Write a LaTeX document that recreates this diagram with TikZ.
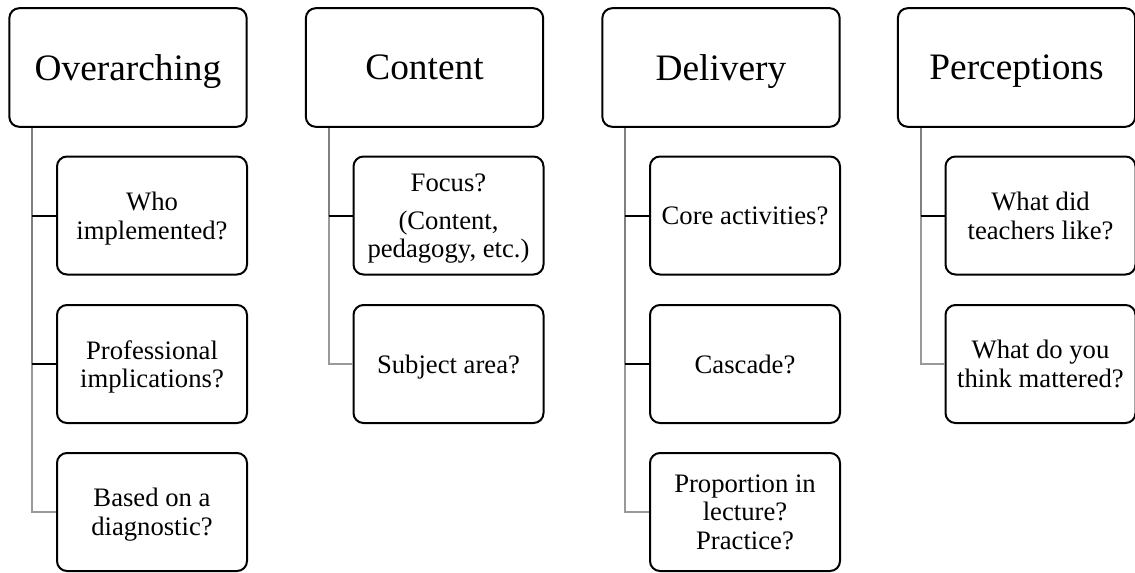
\documentclass[tikz,border=0pt]{standalone}
\usepackage{fontspec}
\setmainfont{Liberation Serif}
\usepackage{xcolor}
\usepackage{tikz}
\usetikzlibrary{positioning}

\begin{document}
\begin{tikzpicture}[x=0.75pt,y=-0.75pt,
			head/.style = {rectangle, draw, rounded corners=7.5pt, line width=1.5pt, minimum width=178pt, minimum height=89pt, inner sep=0pt, align=center, text depth=0pt, font=\fontsize{28}{32}\selectfont},
			item/.style = {rectangle, draw, rounded corners=7.5pt, line width=1.5pt, minimum width=142.5pt, minimum height=88.5pt, inner sep=0pt, align=center, text depth=0pt, font=\fontsize{20}{21.5}\selectfont},
			trunk/.style = {-,line width=1.5pt,draw=black!50},
			twig/.style = {-,line width=1.5pt,draw=black},
			last/.style = {-,line width=1.5pt,draw=black!40}]
	\useasboundingbox (0,0) rectangle (1135,572);

	% top row
	\node[head] (over) at (128, 67.5) {Overarching};
	\node[head] (cont) at (424.5, 67.5) {Content};
	\node[head] (deli) at (721, 67.5) {Delivery};
	\node[head] (perc) at (1016.5, 67.5) {Perceptions};

	% questions
	\node[item] (over1) at (152, 215.5) {Who\\implemented?};
	\node[item] (over2) at (152, 364) {Professional\\implications?};
	\node[item] (over3) at (152, 512) {Based on a\\diagnostic?};
	\node[item] (cont1) at (448.5, 215.5) {Focus?\\[7pt](Content,\\pedagogy, etc.)};
	\node[item] (cont2) at (448.5, 364) {Subject area?};
	\node[item] (deli1) at (745, 215.5) {Core activities?};
	\node[item] (deli2) at (745, 364) {Cascade?};
	\node[item] (deli3) at (745, 512) {Proportion in\\lecture?\\Practice?};
	\node[item] (perc1) at (1040.5, 215.5) {What did\\teachers like?};
	\node[item] (perc2) at (1040.5, 364) {What do you\\think mattered?};

	\coordinate (overt) at ([xshift=18pt]over.south west);
	\coordinate (contt) at ([xshift=18pt]cont.south west);
	\coordinate (delit) at ([xshift=18pt]deli.south west);
	\coordinate (perct) at ([xshift=18pt]perc.south west);

	% connectors
	\draw[last] (overt) |- (over3.west);
	\draw[trunk] (overt) -- (overt |- over2.west);
	\draw[twig] (overt |- over1.west) -- (over1.west);
	\draw[twig] (overt |- over2.west) -- (over2.west);

	\draw[last] (contt) |- (cont2.west);
	\draw[trunk] (contt) -- (contt |- cont1.west);
	\draw[twig] (contt |- cont1.west) -- (cont1.west);

	\draw[last] (delit) |- (deli3.west);
	\draw[trunk] (delit) -- (delit |- deli2.west);
	\draw[twig] (delit |- deli1.west) -- (deli1.west);
	\draw[twig] (delit |- deli2.west) -- (deli2.west);

	\draw[last] (perct) |- (perc2.west);
	\draw[trunk] (perct) -- (perct |- perc1.west);
	\draw[twig] (perct |- perc1.west) -- (perc1.west);
\end{tikzpicture}
\end{document}
